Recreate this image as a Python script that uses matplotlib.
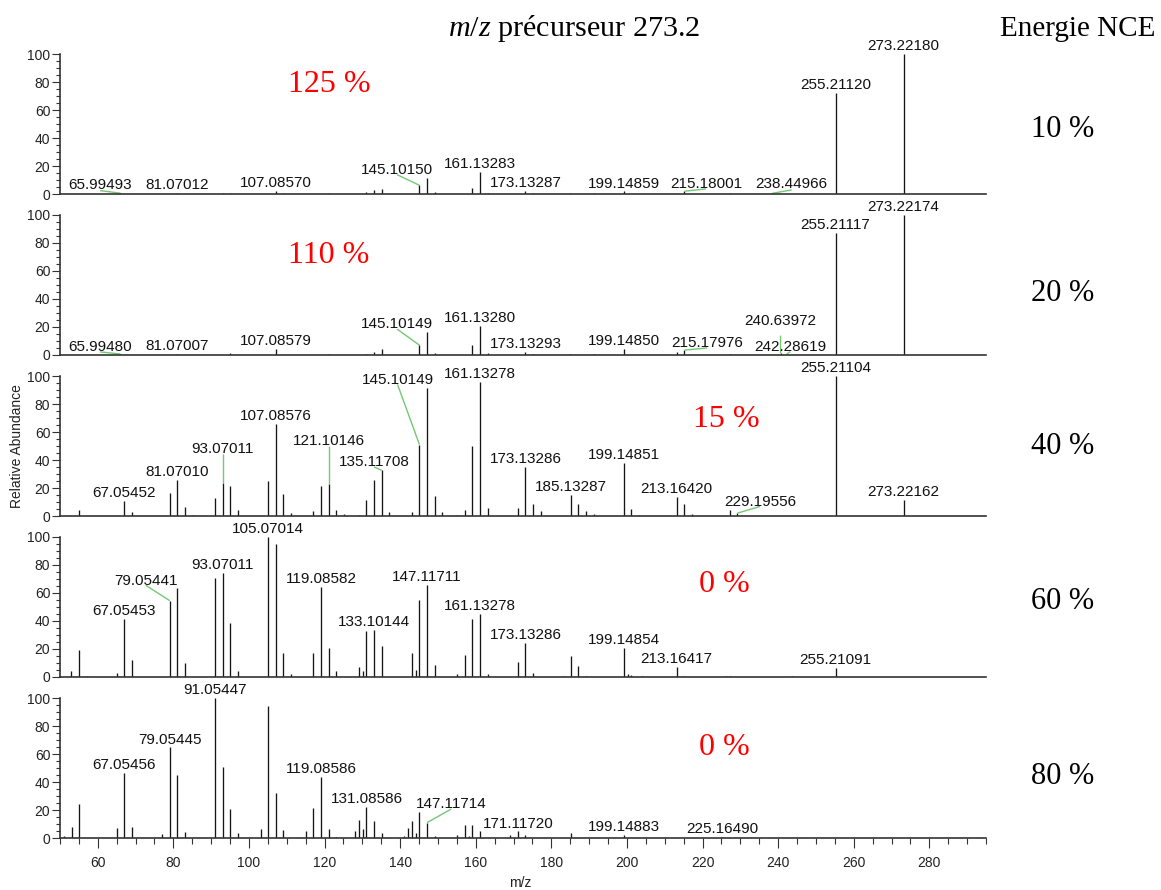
import matplotlib
matplotlib.use("Agg")
import matplotlib.pyplot as plt
from matplotlib.ticker import MultipleLocator

# ---------------------------------------------------------------- data
nce_levels = ["10 %", "20 %", "40 %", "60 %", "80 %"]
red_notes = ["125 %", "110 %", "15 %", "0 %", "0 %"]

# NCE 10 %
mz_10 = [65.99493, 81.07012, 93.07, 95.08, 107.08570, 109.10, 121.10, 131.09,
         133.10, 135.12, 145.10150, 147.12, 149.13, 159.12, 161.13283, 163.15,
         173.13287, 175.15, 184.90, 191.40, 199.14859, 215.18001, 227.20,
         238.44966, 255.21120, 273.22180]
int_10 = [0.6, 1.0, 0.5, 1.0, 2.4, 0.7, 0.7, 1.4,
          3.0, 3.6, 6.2, 11.5, 1.2, 4.3, 15.5, 1.0,
          2.0, 0.8, 1.0, 0.7, 1.8, 2.0, 0.7,
          0.5, 72.0, 100.0]
lab_10 = [65.99493, 81.07012, 107.08570, 145.10150, 161.13283, 173.13287,
          199.14859, 215.18001, 238.44966, 255.21120, 273.22180]

# NCE 20 %
mz_20 = [65.99480, 81.07007, 95.08, 107.08579, 121.10, 131.09, 133.10, 135.12,
         145.10149, 147.12, 149.13, 159.12, 161.13280, 163.15, 173.13293,
         175.15, 184.90, 191.30, 199.14850, 213.16, 215.17976, 227.20,
         240.63972, 242.28619, 255.21117, 273.22174]
int_20 = [0.7, 1.0, 1.4, 4.0, 1.0, 1.0, 2.4, 4.3,
          7.0, 16.7, 1.4, 7.0, 20.7, 1.4, 2.5,
          1.0, 1.0, 1.0, 4.3, 2.0, 3.5, 1.0,
          1.2, 0.7, 87.4, 100.0]
lab_20 = [65.99480, 81.07007, 107.08579, 145.10149, 161.13280, 173.13293,
          199.14850, 215.17976, 240.63972, 242.28619, 255.21117, 273.22174]

# NCE 40 %
mz_40 = [55.05, 67.05452, 69.07, 79.05, 81.07010, 83.09, 85.10, 91.05,
         93.07011, 95.09, 97.10, 105.07, 107.08576, 109.10, 111.10, 117.07,
         119.09, 121.10146, 123.12, 125.10, 129.10, 131.09, 133.10, 135.11708,
         137.10, 143.10, 145.10149, 147.12, 149.13, 151.10, 155.10, 157.10,
         159.12, 161.13278, 163.15, 171.10, 173.13286, 175.15, 177.16,
         185.13287, 187.15, 189.16, 191.18, 199.14851, 201.16, 203.17,
         213.16420, 215.18, 217.20, 227.20, 229.19556, 255.21104, 273.22162]
int_40 = [4.0, 10.5, 2.9, 16.4, 25.5, 6.4, 1.0, 12.9,
          23.8, 21.2, 4.0, 25.0, 66.0, 16.0, 2.0, 3.3,
          21.2, 23.0, 4.0, 1.2, 1.0, 11.7, 25.5, 32.6,
          2.9, 2.9, 51.0, 91.4, 14.0, 2.9, 1.0, 4.0,
          49.8, 95.7, 5.7, 5.7, 35.0, 8.3, 3.6,
          15.2, 8.8, 3.3, 1.7, 38.0, 4.8, 1.0,
          13.6, 8.8, 1.7, 4.0, 2.0, 100.0, 11.7]
lab_40 = [67.05452, 81.07010, 93.07011, 107.08576, 121.10146, 135.11708,
          145.10149, 161.13278, 173.13286, 185.13287, 199.14851, 213.16420,
          229.19556, 255.21104, 273.22162]

# NCE 60 %
mz_60 = [52.90, 55.05, 57.07, 65.04, 67.05453, 69.07, 79.05441, 81.07, 83.09,
         91.05, 93.07011, 95.09, 97.10, 105.07014, 107.09, 109.10, 111.10,
         117.07, 119.08582, 121.10, 123.10, 129.07, 130.08, 131.09, 133.10144,
         135.12, 143.10, 144.10, 145.10, 147.11711, 149.13, 155.10, 157.10,
         159.12, 161.13278, 163.15, 171.10, 173.13286, 175.15, 183.10, 185.13,
         187.15, 189.10, 199.14854, 200.15, 201.16, 204.00, 213.16417, 215.18,
         226.20, 227.20, 243.60, 255.21091]
int_60 = [4.0, 19.4, 0.8, 2.8, 41.5, 11.8, 54.5, 63.3, 10.0,
          70.4, 74.4, 38.4, 4.0, 100.0, 95.3, 17.5, 2.0,
          17.0, 64.0, 21.0, 4.0, 7.0, 4.0, 33.0, 33.6,
          21.8, 17.5, 4.7, 55.0, 66.0, 8.3, 2.0, 15.9,
          41.2, 45.0, 2.0, 10.4, 24.2, 2.8, 1.0, 15.2,
          8.0, 1.0, 20.6, 2.4, 1.7, 1.0, 7.1, 1.0,
          0.8, 0.8, 0.8, 6.4]
lab_60 = [67.05453, 79.05441, 93.07011, 105.07014, 119.08582, 133.10144,
          147.11711, 161.13278, 173.13286, 199.14854, 213.16417, 255.21091]

# NCE 80 %
mz_80 = [51.10, 53.05, 55.05, 65.04, 67.05456, 69.07, 77.04, 79.05445, 81.07,
         83.09, 91.05447, 93.07, 95.09, 97.10, 103.05, 105.07, 107.09, 109.10,
         115.05, 117.07, 119.08586, 121.10, 123.10, 128.06, 129.07, 130.08,
         131.08586, 133.10, 135.12, 141.07, 142.08, 143.09, 144.09, 145.10,
         147.11714, 149.10, 155.09, 157.10, 158.10, 159.12, 161.13, 169.10,
         171.11720, 173.13, 185.13, 199.14883, 225.16490]
int_80 = [1.6, 8.2, 24.2, 7.5, 46.6, 8.2, 2.8, 64.7, 45.2,
          4.0, 100.0, 51.0, 20.5, 3.5, 6.4, 94.0, 32.2, 5.4,
          4.7, 21.6, 43.5, 6.4, 1.0, 4.7, 13.0, 6.4,
          22.4, 11.8, 3.5, 1.5, 7.0, 12.5, 3.5, 18.8,
          11.0, 1.2, 1.9, 9.0, 1.5, 9.0, 4.7, 1.9,
          4.7, 1.9, 3.3, 2.4, 0.5]
lab_80 = [67.05456, 79.05445, 91.05447, 119.08586, 131.08586, 147.11714,
          171.11720, 199.14883, 225.16490]

spectra = [(mz_10, int_10, lab_10), (mz_20, int_20, lab_20),
           (mz_40, int_40, lab_40), (mz_60, int_60, lab_60),
           (mz_80, int_80, lab_80)]

# ---------------------------------------------------------------- layout
# labels moved away from their peak: m/z -> (label x, label baseline, leader end y)
moved_labels = [
    {65.99493: (60.6, 3.6, 2.4), 145.10150: (139.2, 14.3, 13.8),
     215.18001: (220.9, 4.3, 3.6), 238.44966: (243.6, 4.3, 2.9)},
    {65.99480: (60.6, 2.9, 2.2), 145.10149: (139.2, 19.0, 18.5),
     215.17976: (221.2, 5.6, 5.0), 240.63972: (240.64, 21.4, 13.8),
     242.28619: (243.2, 2.9, 2.4)},
    {93.07011: (93.07011, 45.0, 44.5), 121.10146: (121.10146, 50.5, 50.0),
     135.11708: (133.1, 35.5, 35.0), 145.10149: (139.3, 94.5, 94.0),
     229.19556: (235.2, 7.2, 6.8)},
    {79.05441: (72.7, 66.0, 65.5)},
    {147.11714: (153.5, 21.2, 20.7)},
]

W, H, DPI = 1161, 890, 100
AX_LEFT, AX_RIGHT = 60, 986          # px
BASE0, PANEL_STEP, PANEL_H = 194, 161, 140   # px
LABEL_GAP = 2.8                       # % above peak top

SANS = ["Liberation Sans", "DejaVu Sans"]
SERIF = ["Liberation Serif", "DejaVu Serif"]
plt.rcParams["font.family"] = SANS
plt.rcParams["mathtext.fontset"] = "custom"
plt.rcParams["mathtext.rm"] = "Liberation Serif"
plt.rcParams["mathtext.it"] = "Liberation Serif:italic"

INK = "#151515"
LEADER = "#74c874"

fig = plt.figure(figsize=(W / DPI, H / DPI), dpi=DPI)


def fx(px):
    return px / W


def fy(py):
    return 1 - py / H


axes = []
for i, (mz, inten, labs) in enumerate(spectra):
    base = BASE0 + PANEL_STEP * i
    ax = fig.add_axes([fx(AX_LEFT), fy(base), fx(AX_RIGHT - AX_LEFT), PANEL_H / H])
    axes.append(ax)
    ax.set_xlim(50, 295)
    ax.set_ylim(0, 100)
    ax.vlines(mz, 0, inten, color=INK, lw=0.95)

    for s in ("top", "right"):
        ax.spines[s].set_visible(False)
    for s in ("left", "bottom"):
        ax.spines[s].set_color("#333333")
        ax.spines[s].set_linewidth(1.2)

    ax.yaxis.set_major_locator(MultipleLocator(20))
    ax.yaxis.set_minor_locator(MultipleLocator(5))
    ax.tick_params(axis="y", which="major", direction="out", length=5.8,
                   width=0.8, color="#333333", labelsize=10, pad=1.2,
                   labelcolor="#222222")
    ax.tick_params(axis="y", which="minor", direction="out", length=3.2,
                   width=0.8, color="#333333")

    if i < len(spectra) - 1:
        ax.tick_params(axis="x", which="both", bottom=False, labelbottom=False)
    else:
        ax.xaxis.set_major_locator(MultipleLocator(20))
        ax.xaxis.set_minor_locator(MultipleLocator(5))
        ax.tick_params(axis="x", which="major", direction="out", length=7,
                       width=0.8, color="#333333", labelsize=10, pad=6,
                       labelcolor="#222222")
        ax.tick_params(axis="x", which="minor", direction="out", length=4.6,
                       width=0.8, color="#333333")
        ax.set_xticks([t for t in range(60, 281, 20)])

    lookup = dict(zip(mz, inten))
    moved = moved_labels[i]
    for m in labs:
        h = lookup[m]
        text = f"{m:.5f}"
        if m in moved:
            lx, ly, le = moved[m]
            ax.plot([m, lx], [h, le], color=LEADER, lw=1.0, clip_on=False,
                    solid_capstyle="butt")
        else:
            lx, ly = m, h + LABEL_GAP
        ax.text(lx, ly, text, ha="center", va="baseline", fontsize=11,
                color="#111111", clip_on=False)

# axis titles
fig.text(fx(17), fy(446), "Relative Abundance", rotation=90, ha="center",
         va="center", fontsize=10, color="#222222")
fig.text(fx(520), fy(883), "m/z", ha="center", va="center", fontsize=10,
         color="#222222")

# headings
fig.text(fx(574), fy(36), r"$m/z$ précurseur 273.2", ha="center",
         va="baseline", fontsize=21.7, family=SERIF, color="black")
fig.text(fx(1078), fy(36), "Energie NCE", ha="center", va="baseline",
         fontsize=21, family=SERIF, color="black")

right_baselines = [137, 301, 454, 609, 784]
for lab, yb in zip(nce_levels, right_baselines):
    fig.text(fx(1063), fy(yb), lab, ha="center", va="baseline", fontsize=22,
             family=SERIF, color="black")

red_pos = [(329, 92), (329, 263), (726, 427), (724, 592), (724, 755)]
for lab, (px, py) in zip(red_notes, red_pos):
    fig.text(fx(px), fy(py), lab, ha="center", va="baseline", fontsize=23,
             family=SERIF, color="#ff0000")

fig.savefig("out.png", dpi=DPI)
